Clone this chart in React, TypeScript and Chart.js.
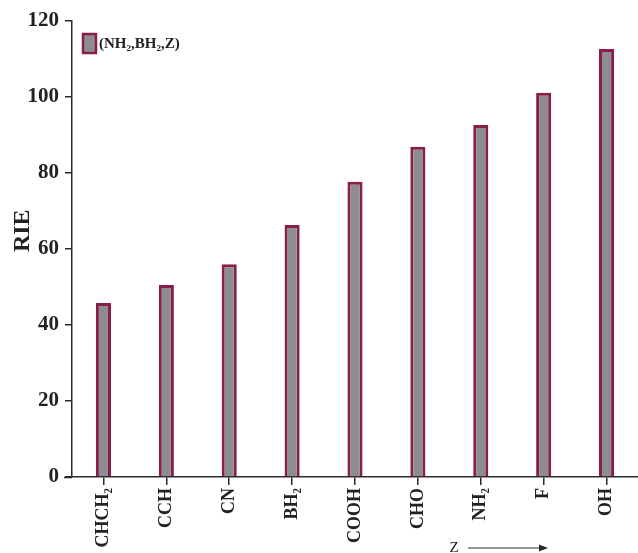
import React, { useEffect, useRef } from "react";
import { Chart, registerables } from "chart.js";

Chart.register(...registerables);

const categories = ["CHCH₂", "CCH", "CN", "BH₂", "COOH", "CHO", "NH₂", "F", "OH"];
const rieValues = [45.8, 50.5, 56.0, 66.3, 77.7, 86.9, 92.6, 101.1, 112.6];
const seriesLabel = "(NH₂,BH₂,Z)";
const yTicks = [0, 20, 40, 60, 80, 100, 120];
const yTitle = "RIE";
const xArrowLabel = "Z";

const SERIF = "'Liberation Serif', 'Times New Roman', serif";
const AXIS = "#2b2b2b";
const BAR_FILL = "#8d8c91";
const BAR_EDGE = "#8a1d4b";

const extrasPlugin = {
  id: "extras",
  afterDraw(chart: any) {
    const { ctx, chartArea } = chart;
    const w = chartArea.right - chartArea.left;
    const h = chartArea.bottom - chartArea.top;
    ctx.save();
    // extend x-axis line a little to the left of the y axis
    ctx.strokeStyle = AXIS;
    ctx.lineWidth = 1.5;
    ctx.beginPath();
    ctx.moveTo(chartArea.left - 8, chartArea.bottom + 0.5);
    ctx.lineTo(chartArea.left, chartArea.bottom + 0.5);
    ctx.stroke();

    // y axis title
    ctx.save();
    ctx.translate(23, chartArea.top + h * 0.46);
    ctx.rotate(-Math.PI / 2);
    ctx.fillStyle = "#222";
    ctx.font = `bold 24px ${SERIF}`;
    ctx.textAlign = "center";
    ctx.textBaseline = "middle";
    ctx.fillText(yTitle, 0, 0);
    ctx.restore();

    // legend
    const ds = chart.data.datasets[0];
    const bx = chartArea.left + 11;
    const by = chartArea.top + 13;
    ctx.fillStyle = ds.backgroundColor;
    ctx.fillRect(bx, by, 13, 19);
    ctx.strokeStyle = ds.borderColor;
    ctx.lineWidth = 2.5;
    ctx.strokeRect(bx, by, 13, 19);
    ctx.fillStyle = "#222";
    ctx.font = `bold 15px ${SERIF}`;
    ctx.textAlign = "left";
    ctx.textBaseline = "middle";
    ctx.fillText(ds.label, bx + 16, by + 10);

    // Z arrow
    const zx = chartArea.left + w * 0.675;
    const y = chart.height - 5;
    ctx.fillStyle = "#222";
    ctx.font = `15px ${SERIF}`;
    ctx.textAlign = "center";
    ctx.textBaseline = "alphabetic";
    ctx.fillText(xArrowLabel, zx, y + 4);
    const x0 = zx + 14;
    const x1 = chartArea.left + w * 0.841;
    ctx.strokeStyle = AXIS;
    ctx.lineWidth = 1.2;
    ctx.beginPath();
    ctx.moveTo(x0, y);
    ctx.lineTo(x1 - 6, y);
    ctx.stroke();
    ctx.fillStyle = AXIS;
    ctx.beginPath();
    ctx.moveTo(x1, y);
    ctx.lineTo(x1 - 9, y - 3.5);
    ctx.lineTo(x1 - 9, y + 3.5);
    ctx.closePath();
    ctx.fill();
    ctx.restore();
  },
};

export default function App() {
  const ref = useRef<HTMLCanvasElement>(null);
  useEffect(() => {
    if (!ref.current) return;
    const chart = new Chart(ref.current, {
      type: "bar",
      data: {
        labels: categories,
        datasets: [
          {
            label: seriesLabel,
            data: rieValues,
            backgroundColor: BAR_FILL,
            borderColor: BAR_EDGE,
            borderWidth: 3,
            barPercentage: 0.24,
            categoryPercentage: 1,
          },
        ],
      },
      options: {
        responsive: false,
        animation: false,
        layout: { padding: { top: 21, right: 0, left: 0, bottom: 0 } },
        plugins: {
          legend: { display: false },
          tooltip: { enabled: false },
        },
        scales: {
          x: {
            offset: true,
            border: { display: true, color: AXIS, width: 1.5 },
            grid: {
              display: true,
              drawOnChartArea: false,
              drawTicks: true,
              tickLength: 8,
              offset: false,
              color: AXIS,
              lineWidth: 1.5,
            },
            ticks: {
              autoSkip: false,
              minRotation: 90,
              maxRotation: 90,
              padding: 3,
              color: "#222",
              font: { family: SERIF, size: 18, weight: "bold" },
            },
            afterFit(scale: any) {
              scale.height = 76;
            },
          },
          y: {
            min: 0,
            max: 120,
            afterBuildTicks(scale: any) {
              scale.ticks = yTicks.map((v) => ({ value: v }));
            },
            border: { display: true, color: AXIS, width: 1.5 },
            grid: {
              display: true,
              drawOnChartArea: false,
              drawTicks: true,
              tickLength: 7,
              color: AXIS,
              lineWidth: 1.5,
            },
            ticks: {
              padding: 6,
              color: "#222",
              font: { family: SERIF, size: 21, weight: "bold" },
            },
            title: { display: false },
            afterFit(scale: any) {
              scale.width = 72;
            },
          },
        },
      },
      plugins: [extrasPlugin],
    });
    return () => chart.destroy();
  }, []);
  return (
    <div style={{ position: "fixed", left: 0, top: 0, width: 638, height: 553, background: "#fff" }}>
      <canvas ref={ref} width={638} height={553} />
    </div>
  );
}
